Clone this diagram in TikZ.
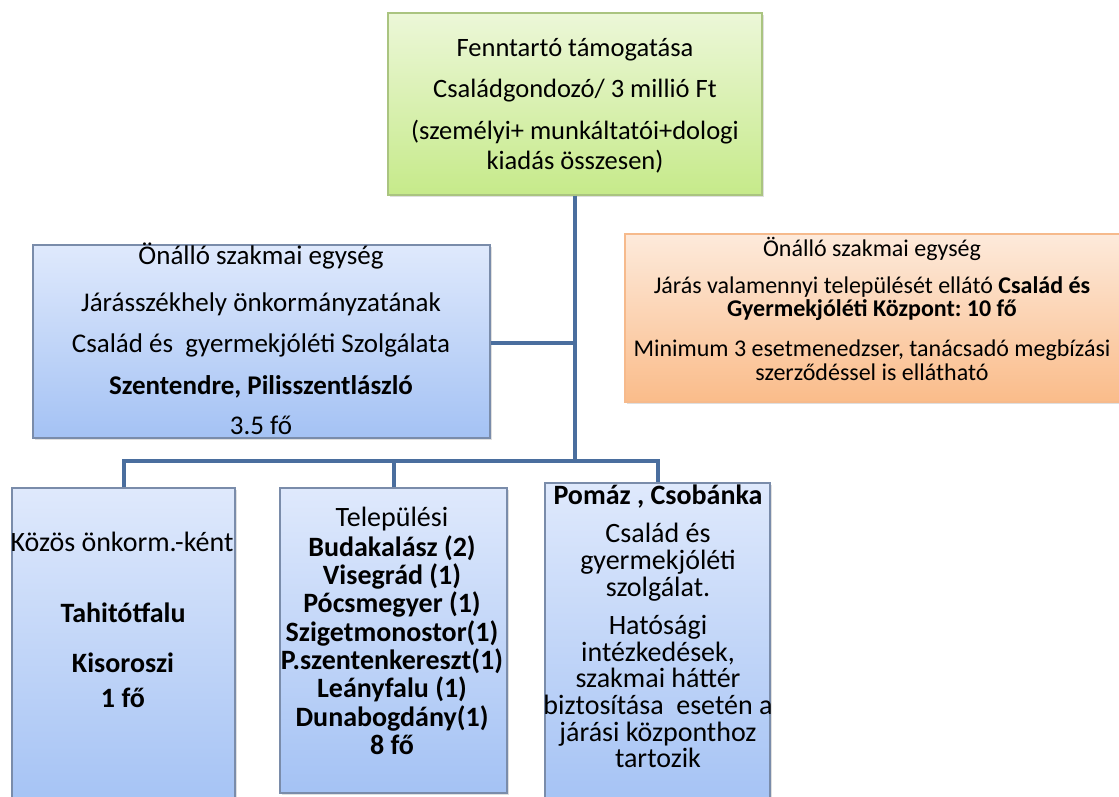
\documentclass[tikz,border=0pt]{standalone}
\usepackage{fontspec}
\setmainfont{Carlito}
\frenchspacing
\usetikzlibrary{shadows}
\definecolor{gtop}{RGB}{236,247,216}
\definecolor{gbot}{RGB}{198,234,138}
\definecolor{gbrd}{RGB}{170,196,128}
\definecolor{btop}{RGB}{223,233,252}
\definecolor{bbot}{RGB}{164,194,244}
\definecolor{bbrd}{RGB}{122,140,170}
\definecolor{otop}{RGB}{253,234,219}
\definecolor{obot}{RGB}{250,188,138}
\definecolor{obrd}{RGB}{246,186,140}
\definecolor{conn}{RGB}{74,110,158}
\tikzset{
  boxbase/.style={rectangle, inner sep=0pt, line width=1.2pt,
    drop shadow={shadow xshift=2pt, shadow yshift=-2pt, opacity=0.25}},
  greenbox/.style={boxbase, draw=gbrd, top color=gtop, bottom color=gbot},
  bluebox/.style={boxbase, draw=bbrd, top color=btop, bottom color=bbot},
  orangebox/.style={boxbase, draw=obrd, top color=otop, bottom color=obot},
  tight/.style={inner sep=0pt, text height=22pt, text depth=3pt},
  ttxt/.style={tight, font=\fontsize{26.5}{30}\selectfont},
  txt/.style={tight, font=\fontsize{27}{30}\selectfont},
  txtb/.style={tight, font=\fontsize{27}{30}\selectfont\bfseries},
  btxt/.style={tight, font=\fontsize{28}{30}\selectfont},
  btxtb/.style={tight, font=\fontsize{28}{30}\selectfont\bfseries},
  otxt/.style={inner sep=0pt, text height=19.5pt, text depth=2.5pt, font=\fontsize{24}{28}\selectfont},
  conline/.style={draw=conn, line width=4pt}
}
\begin{document}
\begin{tikzpicture}[x=1pt,y=-1pt]
\useasboundingbox (0,0) rectangle (1119,796);
% boxes
\node[greenbox, minimum width=374pt, minimum height=182pt] (top) at (575,104) {};
\node[bluebox, minimum width=457pt, minimum height=193pt] (left) at (261.5,341.5) {};
\node[orangebox, minimum width=500pt, minimum height=168pt] (right) at (875,318) {};
\node[bluebox, minimum width=223pt, minimum height=322pt] (b1) at (123.5,649) {};
\node[bluebox, minimum width=227pt, minimum height=305pt] (b2) at (393.5,640.5) {};
\node[bluebox, minimum width=225pt, minimum height=327pt] (b3) at (657.5,646.5) {};
% connectors
\coordinate (bus) at (573,461);
\draw[conline] (top.south) -- (top.south |- bus);
\draw[conline] (left.east |- 0,343) -- (top.south |- 0,343);
\draw[conline] (b1.north) |- (bus) -| (b3.north);
\draw[conline] (b2.north) -- (b2.north |- bus);
% top text
\node[ttxt] (t1) at (575,47) {Fenntartó támogatása};
\node[ttxt] (t2) at (575,88) {Családgondozó/ 3 millió Ft};
\node[ttxt] (t3) at (575,130) {(személyi+ munkáltatói+dologi};
\node[ttxt] (t4) at (575,160) {kiadás összesen)};
% left text
\node[txt] (l1) at (261,255) {Önálló szakmai egység};
\node[txt] (l2) at (261,302) {Járásszékhely önkormányzatának};
\node[txt] (l3) at (261,343) {Család és\ \ gyermekjóléti Szolgálata};
\node[txtb] (l4) at (261,385) {Szentendre, Pilisszentlászló};
\node[txt] (l5) at (261,425) {3.5 fő};
% right text
\node[otxt] (r1) at (872,248) {Önálló szakmai egység};
\node[otxt] (r2) at (872,285) {Járás valamennyi települését ellátó \textbf{Család és}};
\node[otxt] (r3) at (872,308) {\textbf{Gyermekjóléti Központ: 10 fő}};
\node[otxt] (r4) at (872,348) {Minimum 3 esetmenedzser, tanácsadó megbízási};
\node[otxt] (r5) at (872,372) {szerződéssel is ellátható};
% b1 text
\node[btxt] (a1) at (122,542) {Közös önkorm.-ként};
\node[btxtb] (a2) at (123,613) {Tahitótfalu};
\node[btxtb] (a3) at (123,663) {Kisoroszi};
\node[btxtb] (a4) at (123,698) {1 fő};
% b2 text
\node[btxt] (c1) at (392,517) {Települési};
\node[btxtb] (c2) at (392,547) {Budakalász (2)};
\node[btxtb] (c3) at (392,575) {Visegrád (1)};
\node[btxtb] (c4) at (392,603) {Pócsmegyer (1)};
\node[btxtb] (c5) at (392,632) {Szigetmonostor(1)};
\node[btxtb] (c6) at (392,660) {P.szentenkereszt(1)};
\node[btxtb] (c7) at (392,688) {Leányfalu (1)};
\node[btxtb] (c8) at (392,717) {Dunabogdány(1)};
\node[btxtb] (c9) at (392,745) {8 fő};
% b3 text
\node[btxtb] (d1) at (658,495) {Pomáz , Csobánka};
\node[btxt] (d2) at (658,533) {Család és};
\node[btxt] (d3) at (658,560) {gyermekjóléti};
\node[btxt] (d4) at (658,587) {szolgálat.};
\node[btxt] (d5) at (658,625) {Hatósági};
\node[btxt] (d6) at (658,652) {intézkedések,};
\node[btxt] (d7) at (658,678) {szakmai háttér};
\node[btxt] (d8) at (658,705) {biztosítása\ \ esetén a};
\node[btxt] (d9) at (658,732) {járási központhoz};
\node[btxt] (d10) at (658,758) {tartozik};
\end{tikzpicture}
\end{document}
